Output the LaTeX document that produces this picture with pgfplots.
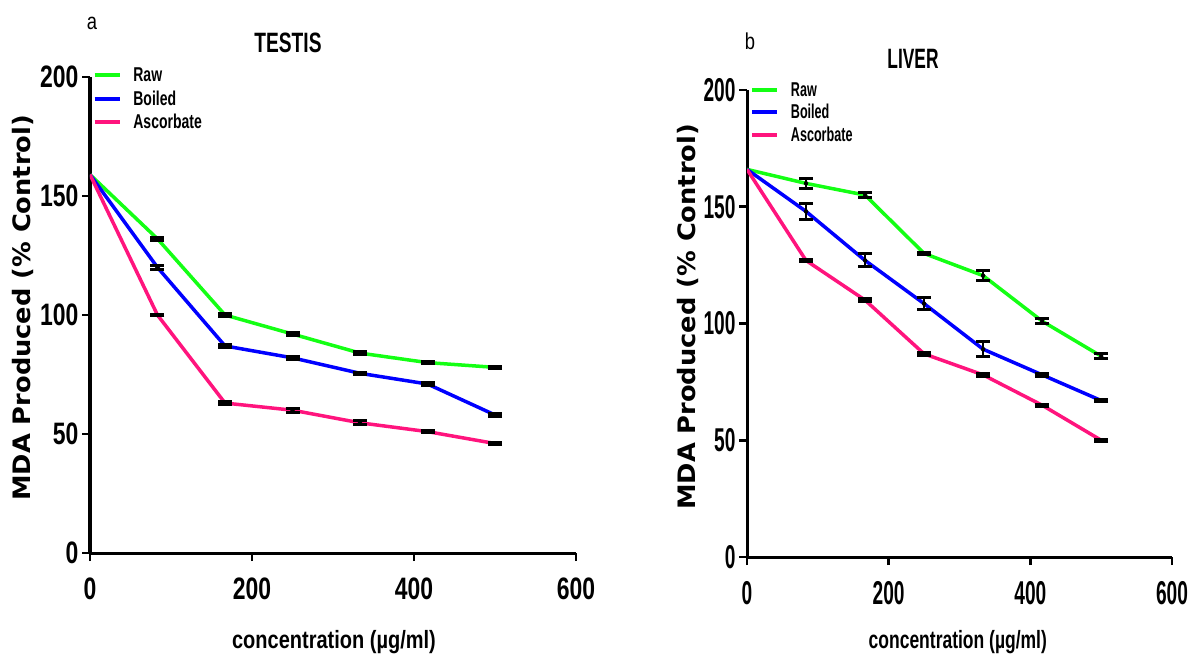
\documentclass[border=0pt]{standalone}
\usepackage{fontspec}
\setmainfont{Liberation Sans}
\usepackage{pgfplots}
\usepackage{pgfplotstable}
\pgfplotsset{compat=1.18}

\newfontfamily\tickA[FakeStretch=0.74]{Liberation Sans}
\newfontfamily\tickB[FakeStretch=0.58]{Liberation Sans}
\newfontfamily\titA[FakeStretch=0.685]{Liberation Sans}
\newfontfamily\titB[FakeStretch=0.62]{Liberation Sans}
\newfontfamily\legA[FakeStretch=0.70]{Liberation Sans}
\newfontfamily\legB[FakeStretch=0.63]{Liberation Sans}
\newfontfamily\xlabA[FakeStretch=0.80]{Liberation Sans}
\newfontfamily\xlabB[FakeStretch=0.70]{Liberation Sans}
\newfontfamily\ylab[FakeStretch=1.07]{DejaVu Sans}
\newfontfamily\letterf[FakeStretch=0.8]{Liberation Sans}

\definecolor{rawc}{RGB}{20,255,20}
\definecolor{boilc}{RGB}{0,0,255}
\definecolor{ascc}{RGB}{255,20,125}

\pgfplotstableread{
x     raw  rawe boil boile asc  asce
0     159  0    159  0     159  0
83.3  132  0.5  120  1.0   100  0.3
166.7 100  0.5  87   0.5   63   0.8
250   92   0.5  82   0.5   60   0.8
333.3 84   0.5  75.5 0.5   54.7 0.8
416.7 80   0.5  71   0.5   51   0.5
500   78   0.5  58   0.5   46   0.5
}\testis

\pgfplotstableread{
x     raw   rawe boil boile asc  asce
0     166   0    166  0     166  0
83.3  160   2.0  148  3.3   127  0.5
166.7 155   1.0  127  2.8   110  0.5
250   130   0.5  108.5 2.7  87   0.5
333.3 120.5 2.0  89   3.3   78   0.5
416.7 101   1.0  78   0.5   65   0.5
500   86    1.0  67   0.5   50   0.5
}\liver

\pgfplotsset{
  base/.style={
    scale only axis, anchor=south west,
    axis lines=left, axis line style={-, line width=3pt, black},
    xmin=0, xmax=600, ymin=0, ymax=200,
    xtick={0,200,400,600}, ytick={0,50,100,150,200},
    tick align=outside, major tick length=8pt,
    tick style={line width=2.5pt, black},
    minor tick num=0,
    /pgf/number format/assume math mode=true,
    xticklabel style={yshift=-13pt},
    legend image code/.code={\draw[#1,line width=4pt,-] (0pt,0pt) -- (25pt,0pt); \path (35pt,0pt);},
    legend cell align=left,
  },
  errb/.style={only marks, mark=none, forget plot,
    skip coords between index={0}{1},
    error bars/.cd, y dir=both, y explicit,
    error bar style={line width=2.5pt, black, solid},
    error mark options={rotate=90, mark size=7pt, line width=3pt, black}},
}

\begin{document}
\begin{tikzpicture}
\path[use as bounding box] (0,0) rectangle (1192pt,654pt);

% ---------- panel a ----------
\begin{axis}[base, at={(90pt,101pt)}, width=486pt, height=476pt,
  ticklabel style={font=\tickA\bfseries\fontsize{31}{33}\selectfont},
  ylabel={MDA Produced (\% Control)},
  ylabel style={font=\ylab\bfseries\fontsize{24}{26}\selectfont, at={(axis description cs:-0.138,0.515)}, anchor=center},
  xlabel={concentration (µg/ml)},
  xlabel style={font=\xlabA\bfseries\fontsize{25}{27}\selectfont, at={(axis description cs:0.502,-0.187)}, anchor=center},
  legend style={draw=none, fill=none, at={(axis description cs:0.005,1.024)}, anchor=north west,
    inner sep=0pt, row sep=3.5pt, font=\legA\bfseries\fontsize{20}{22}\selectfont},
]
\addplot[rawc, line width=3.5pt] table[x=x, y=raw] {\testis};
\addplot[boilc, line width=3.5pt] table[x=x, y=boil] {\testis};
\addplot[ascc, line width=3.5pt] table[x=x, y=asc] {\testis};
\addplot[errb] table[x=x, y=raw, y error=rawe] {\testis};
\addplot[errb] table[x=x, y=boil, y error=boile] {\testis};
\addplot[errb] table[x=x, y=asc, y error=asce] {\testis};
\legend{Raw, Boiled, Ascorbate}
\end{axis}

% ---------- panel b ----------
\begin{axis}[base, at={(747pt,97pt)}, width=425pt, height=467pt,
  ticklabel style={font=\tickB\bfseries\fontsize{33}{35}\selectfont},
  ylabel={MDA Produced (\% Control)},
  ylabel style={font=\ylab\bfseries\fontsize{24}{26}\selectfont, at={(axis description cs:-0.139,0.514)}, anchor=center},
  xlabel={concentration (µg/ml)},
  xlabel style={font=\xlabB\bfseries\fontsize{25}{27}\selectfont, at={(axis description cs:0.496,-0.182)}, anchor=center},
  legend style={draw=none, fill=none, at={(axis description cs:0.007,1.021)}, anchor=north west,
    inner sep=0pt, row sep=2.5pt, font=\legB\bfseries\fontsize{20}{22}\selectfont},
]
\addplot[rawc, line width=3.5pt] table[x=x, y=raw] {\liver};
\addplot[boilc, line width=3.5pt] table[x=x, y=boil] {\liver};
\addplot[ascc, line width=3.5pt] table[x=x, y=asc] {\liver};
\addplot[errb] table[x=x, y=raw, y error=rawe] {\liver};
\addplot[errb] table[x=x, y=boil, y error=boile] {\liver};
\addplot[errb] table[x=x, y=asc, y error=asce] {\liver};
\legend{Raw, Boiled, Ascorbate}
\end{axis}

% titles and panel letters
\node[inner sep=0pt, font=\titA\bfseries\fontsize{28}{30}\selectfont] at (288pt,611pt) {TESTIS};
\node[inner sep=0pt, font=\letterf\fontsize{23}{25}\selectfont] at (92pt,631pt) {a};
\node[inner sep=0pt, font=\titB\bfseries\fontsize{28}{30}\selectfont] at (913pt,595pt) {LIVER};
\node[inner sep=0pt, font=\letterf\fontsize{23}{25}\selectfont] at (750pt,613pt) {b};
\end{tikzpicture}
\end{document}
